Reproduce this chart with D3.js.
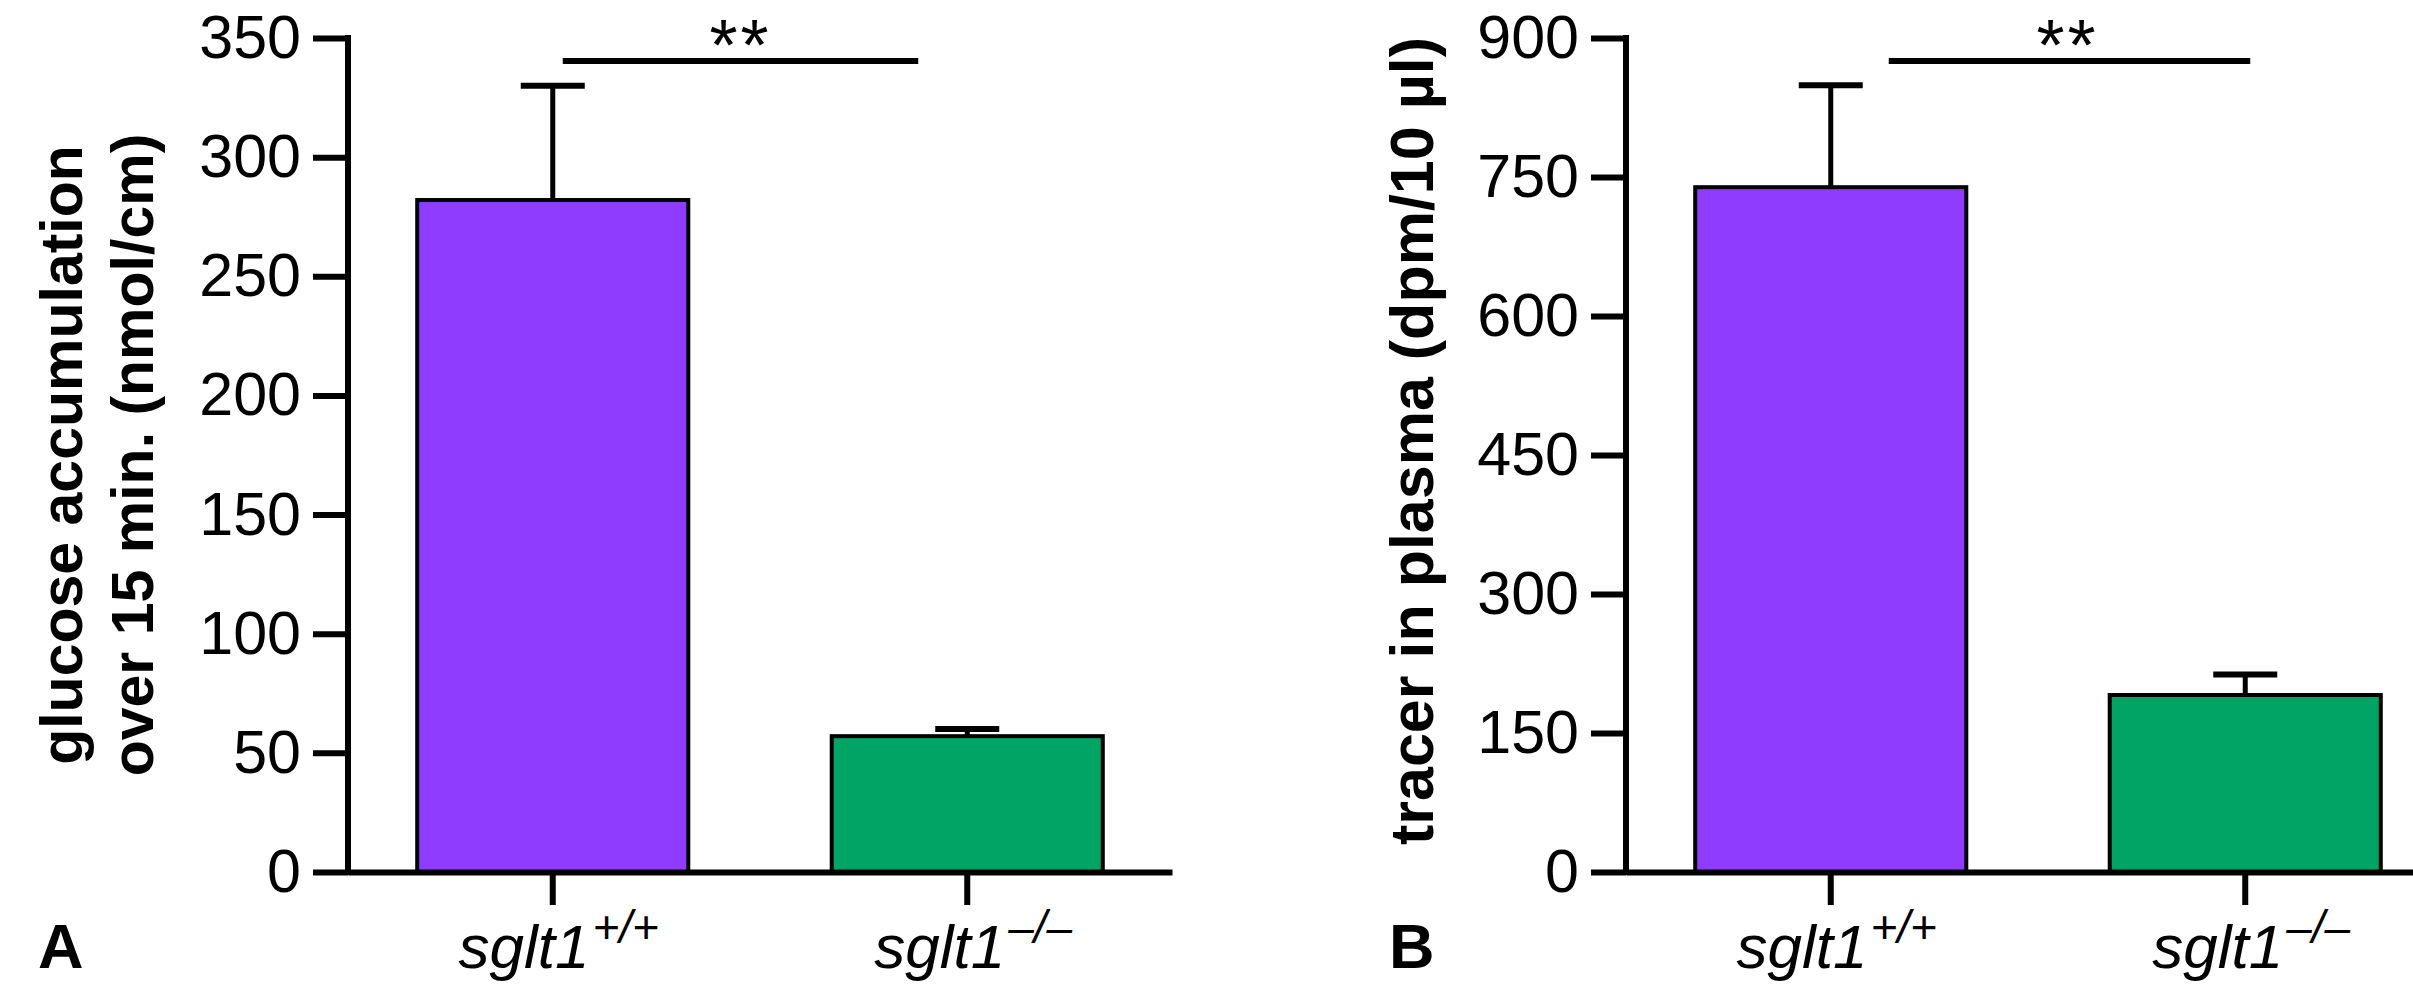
<!DOCTYPE html>
<html>
<head>
<meta charset="utf-8">
<script src="https://cdn.jsdelivr.net/npm/d3@7"></script>
<style>
  body { margin: 0; background: #fff; }
  text { font-family: "Liberation Sans", Arial, Helvetica, sans-serif; fill: #000; }
</style>
</head>
<body>
<script>
var width = 2413;
var height = 985;

// genotypes on the x axis (italic gene name + superscript allele)
var geneName = 'sglt1';
var genotypes = ['+/+', '\u2013/\u2013'];
var barColors = ['#8f3cfe', '#00a566'];

// panel A: glucose accumulation
var glucoseMeans = [282, 57];
var glucoseErr = [48, 3];
var glucoseTicks = [0, 50, 100, 150, 200, 250, 300, 350];

// panel B: tracer in plasma
var tracerMeans = [739, 191];
var tracerErr = [110, 22];
var tracerTicks = [0, 150, 300, 450, 600, 750, 900];

var svg = d3.select('body')
  .append('svg')
  .attr('width', width)
  .attr('height', height);

var plotTop = 38;
var plotBottom = 872;
var plotWidth = 824;

function drawPanel(opt) {
  var g = svg.append('g').attr('transform', 'translate(' + opt.left + ',0)');

  var x = d3.scaleBand()
    .domain(genotypes)
    .range([0, plotWidth])
    .paddingInner(0.346)
    .paddingOuter(0.167);

  var y = d3.scaleLinear()
    .domain([0, opt.ticks[opt.ticks.length - 1]])
    .range([plotBottom, plotTop]);

  // bars
  g.selectAll('rect.bar')
    .data(opt.means)
    .enter()
    .append('rect')
    .attr('class', 'bar')
    .attr('x', function(d, i) { return x(genotypes[i]); })
    .attr('y', function(d) { return y(d); })
    .attr('width', x.bandwidth())
    .attr('height', function(d) { return y(0) - y(d); })
    .attr('fill', function(d, i) { return barColors[i]; })
    .attr('stroke', '#000')
    .attr('stroke-width', 4);

  // one-sided error bars
  var capW = 64;
  var err = g.selectAll('g.err')
    .data(opt.means)
    .enter()
    .append('g')
    .attr('class', 'err');
  err.append('line')
    .attr('x1', function(d, i) { return x(genotypes[i]) + x.bandwidth() / 2; })
    .attr('x2', function(d, i) { return x(genotypes[i]) + x.bandwidth() / 2; })
    .attr('y1', function(d) { return y(d); })
    .attr('y2', function(d, i) { return y(d + opt.err[i]); })
    .attr('stroke', '#000')
    .attr('stroke-width', 5);
  err.append('line')
    .attr('x1', function(d, i) { return x(genotypes[i]) + x.bandwidth() / 2 - capW / 2; })
    .attr('x2', function(d, i) { return x(genotypes[i]) + x.bandwidth() / 2 + capW / 2; })
    .attr('y1', function(d, i) { return y(d + opt.err[i]); })
    .attr('y2', function(d, i) { return y(d + opt.err[i]); })
    .attr('stroke', '#000')
    .attr('stroke-width', 6);

  // y axis
  var yAxis = g.append('g')
    .call(d3.axisLeft(y).tickValues(opt.ticks).tickSize(35).tickSizeOuter(0).tickPadding(12));
  yAxis.select('.domain').attr('stroke-width', 6).attr('d', 'M0,' + (plotTop - 3) + 'V' + (plotBottom + 3));
  yAxis.selectAll('.tick line').attr('stroke-width', 6);
  yAxis.selectAll('.tick text')
    .style('font-size', '61px')
    .style('font-family', '"Liberation Sans", Arial, sans-serif');

  // x axis
  var xAxis = g.append('g')
    .attr('transform', 'translate(0,' + plotBottom + ')')
    .call(d3.axisBottom(x).tickSize(33).tickSizeOuter(0).tickFormat(''));
  xAxis.select('.domain').attr('stroke-width', 6);
  xAxis.selectAll('.tick line').attr('stroke-width', 6);

  // x labels
  var lab = g.selectAll('text.xlab')
    .data(genotypes)
    .enter()
    .append('text')
    .attr('class', 'xlab')
    .attr('x', function(d) { return x(d) + x.bandwidth() / 2 + 6; })
    .attr('y', 968)
    .attr('text-anchor', 'middle')
    .style('font-size', '62px')
    .style('font-style', 'italic');
  lab.append('tspan').text(geneName);
  lab.append('tspan')
    .attr('dx', 3)
    .attr('dy', -25)
    .style('font-size', '46px')
    .text(function(d) { return d; });

  // y title
  var title = g.append('text')
    .attr('transform', 'translate(' + opt.titleX + ',' + ((plotTop + plotBottom) / 2 + opt.titleShift) + ') rotate(-90)')
    .attr('text-anchor', 'middle')
    .style('font-size', opt.titleSize + 'px')
    .style('font-weight', 'bold');
  opt.title.forEach(function(t, i) {
    title.append('tspan')
      .attr('x', 0)
      .attr('dy', i === 0 ? 0 : 71)
      .text(t);
  });

  // significance bar
  var c0 = x(genotypes[0]) + x.bandwidth() / 2;
  var c1 = x(genotypes[1]) + x.bandwidth() / 2;
  g.append('line')
    .attr('x1', c0 + opt.sig[0])
    .attr('x2', c1 + opt.sig[1])
    .attr('y1', 61)
    .attr('y2', 61)
    .attr('stroke', '#000')
    .attr('stroke-width', 6);
  g.append('text')
    .attr('x', (c0 + opt.sig[0] + c1 + opt.sig[1]) / 2 + opt.sig[2])
    .attr('y', 70)
    .attr('text-anchor', 'middle')
    .style('font-size', '72px')
    .style('letter-spacing', '3px')
    .text('**');

  // panel letter
  g.append('text')
    .attr('x', opt.letterX)
    .attr('y', 968)
    .style('font-size', '63px')
    .style('font-weight', 'bold')
    .text(opt.letter);
}

drawPanel({
  left: 348,
  means: glucoseMeans,
  err: glucoseErr,
  ticks: glucoseTicks,
  title: ['glucose accumulation', 'over 15 min. (nmol/cm)'],
  titleX: 82 - 348,
  titleShift: 0,
  titleSize: 59,
  sig: [10, -49, 0],
  letter: 'A',
  letterX: 38 - 348
});

drawPanel({
  left: 1626,
  means: tracerMeans,
  err: tracerErr,
  ticks: tracerTicks,
  title: ['tracer in plasma (dpm/10 \u00b5l)'],
  titleX: 1433 - 1626,
  titleShift: -14,
  titleSize: 61,
  sig: [58, 5, -2],
  letter: 'B',
  letterX: 1389 - 1626
});
</script>
</body>
</html>
